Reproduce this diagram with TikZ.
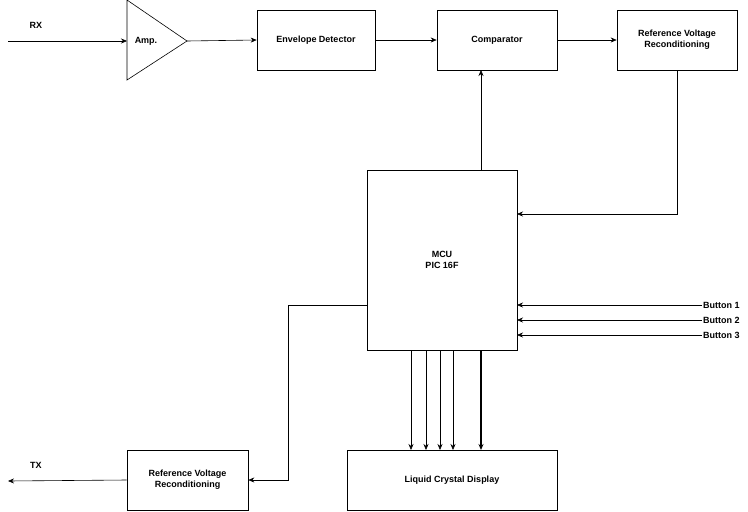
\documentclass[tikz,border=0pt]{standalone}
\usepackage{fontspec}
\setmainfont{Liberation Sans}
\usetikzlibrary{arrows.meta}
\begin{document}
\begin{tikzpicture}[x=1pt,y=-1pt,
  box/.style={draw,minimum width=#1,minimum height=60pt,align=center,font=\fontsize{9}{11}\selectfont\bfseries,inner sep=1pt},
  lbl/.style={font=\fontsize{9}{11}\selectfont\bfseries,inner sep=1pt},
  arr/.style={-{Stealth[length=6pt,width=5pt]},line width=0.6pt},
  every path/.style={line width=0.6pt}]
\useasboundingbox (0,0) rectangle (748,512);
\node[box=118pt] (env) at (316,40) {Envelope Detector};
\node[box=120pt] (cmp) at (497,40) {Comparator};
\node[box=120pt] (ref1) at (677,40) {Reference Voltage\\Reconditioning};
\node[box=150pt,minimum height=180pt] (mcu) at (442,260) {MCU\\PIC 16F};
\node[box=121pt] (ref2) at (187.5,480) {Reference Voltage\\Reconditioning};
\node[box=210pt] (lcd) at (452,480) {Liquid Crystal Display};
\draw (127,0) coordinate (a1) -- (187,41) coordinate (atip) -- (127,80) -- cycle;
\node[lbl] (amp) at (146,41) {Amp.};
\coordinate (ain) at (127,41);
\coordinate (rxs) at (8,41);
\node[lbl] (rx) at (36,25) {RX};
\draw[arr] (rxs) -- (ain);
\draw[arr] (atip) -- (env.west);
\draw[arr] (env.east) -- (cmp.west);
\draw[arr] (cmp.east) -- (ref1.west);
\draw[arr] (ref1.south) |- (517,214);
\draw[arr] (481,170) -- (481,70);
\foreach \y/\n in {305/1,320/2,335/3}{
  \node[lbl,anchor=east] (b\n) at (741,\y) {Button \n};
  \draw[arr] (b\n.west) -- (517,\y);
}
\draw[arr] (367,305) -- (288,305) |- (ref2.east);
\coordinate (txe) at (8,481);
\node[lbl] (tx) at (36,465) {TX};
\draw[arr] (ref2.west) -- (txe);
\foreach \x in {411,426,440,453}{\draw[arr] (\x,350) -- (\x,450);}
\draw[arr,line width=1.4pt] (481,350) -- (481,450);
\end{tikzpicture}
\end{document}
